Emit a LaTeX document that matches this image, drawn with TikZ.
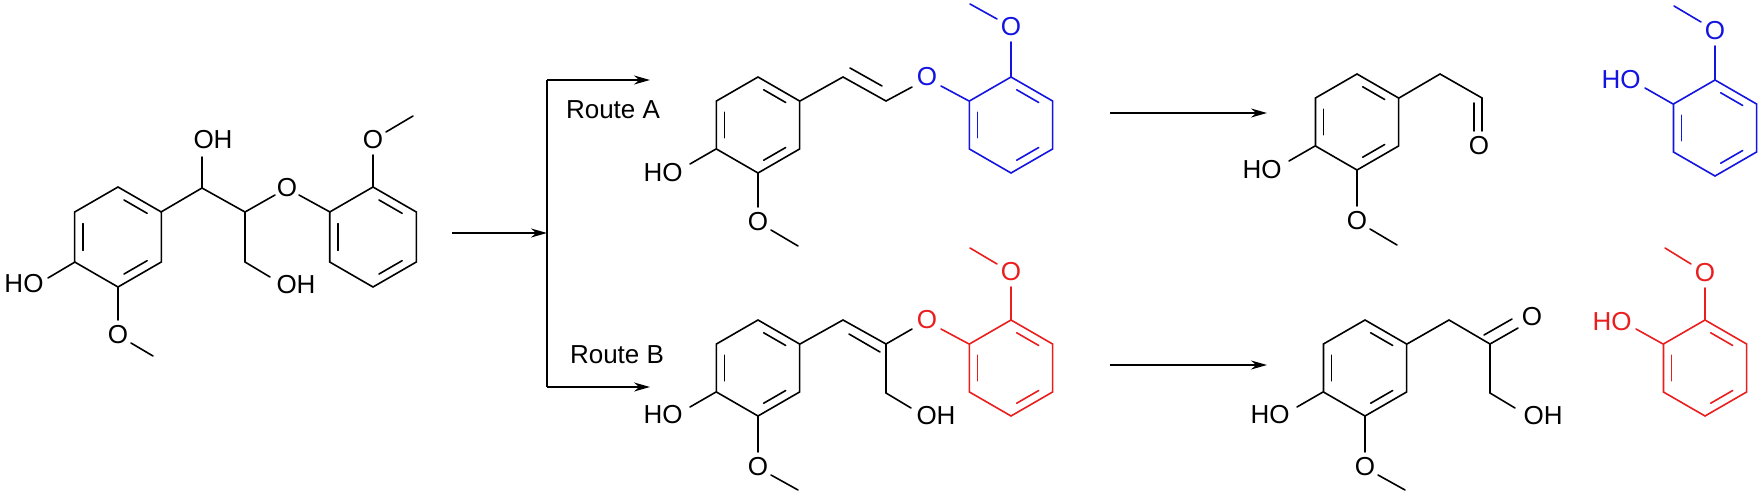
\documentclass[tikz,border=0pt]{standalone}
\usepackage{fontspec}
\setmainfont{Liberation Sans}
\usetikzlibrary{calc,arrows.meta}
\definecolor{cblue}{RGB}{20,20,225}
\definecolor{cred}{RGB}{235,30,30}
\tikzset{
  bond/.style={line width=1.6pt, line cap=round},
  lbl/.style={font=\fontsize{26}{28}\selectfont, inner sep=0pt},
  rxn/.style={line width=1.6pt, -{Stealth[length=16pt,width=9pt]}}
}
\newcommand\hexr[4]{%
 \begin{scope}[shift={(#1,#2)}]
  \draw[bond,#4] (-90:#3) -- (-30:#3) -- (30:#3) -- (90:#3) -- (150:#3) -- (210:#3) -- cycle;
  \foreach \a in {-90,30,150}{
    \draw[bond,#4] ($(\a:#3-9.5)!0.17!(\a+60:#3-9.5)$) -- ($(\a:#3-9.5)!0.83!(\a+60:#3-9.5)$);
  }
 \end{scope}}
\begin{document}
\begin{tikzpicture}[x=1pt,y=-1pt]
\useasboundingbox[fill=white] (0,0) rectangle (1763,495);
% ---------- molecule 1
\hexr{118}{237}{50}{black}
\hexr{373}{237}{50}{black}
\node[lbl] (m1ho) at (24,284) {HO};
\draw[bond] (75,262) -- (48,278);
\draw[bond] (118,287) -- (118,320);
\node[lbl] (m1o) at (118,335) {O};
\draw[bond] (131,343) -- (153,356);
\draw[bond] (161,212) -- (202,188) -- (202,157);
\node[lbl] (m1oh1) at (213,140) {OH};
\draw[bond] (202,188) -- (245,212) -- (245,262) -- (270,277);
\node[lbl] (m1oh2) at (296,285) {OH};
\draw[bond] (245,212) -- (275,195);
\node[lbl] (m1oe) at (287,188) {O};
\draw[bond] (299,195) -- (330,212);
\draw[bond] (373,187) -- (373,155);
\node[lbl] (m1om) at (373,140) {O};
\draw[bond] (386,132) -- (413,116);
% ---------- arrows
\coordinate (a0) at (452,233);
\coordinate (aj) at (547,233);
\coordinate (at) at (547,80);
\coordinate (ab) at (547,387);
\coordinate (ate) at (650,80);
\coordinate (abe) at (650,387);
\draw[rxn] (a0) -- (aj);
\draw[line width=1.6pt] (at) -- (ab);
\draw[rxn] (at) -- (ate);
\draw[rxn] (ab) -- (abe);
\node[font=\fontsize{26}{28}\selectfont, inner sep=0pt] (ra) at (613,110) {Route A};
\node[font=\fontsize{26}{28}\selectfont, inner sep=0pt] (rb) at (617,355) {Route B};
\coordinate (c1) at (1110,113); \coordinate (c2) at (1267,113);
\coordinate (d1) at (1110,365); \coordinate (d2) at (1267,365);
\draw[rxn] (c1) -- (c2);
\draw[rxn] (d1) -- (d2);
% ---------- molecule 2 (route A)
\hexr{758}{125}{48}{black}
\draw[bond] (716,149) -- (690,164);
\node[lbl] (m2ho) at (663,173) {HO};
\draw[bond] (758,173) -- (758,207);
\node[lbl] (m2o) at (758,222) {O};
\draw[bond] (771,230) -- (798,246);
\draw[bond] (800,101) -- (843,77) -- (886,101) -- (912,87);
\draw[bond] (850,68) -- (882,86);
\node[lbl,text=cblue] (m2oe) at (927,77) {O};
\draw[bond,cblue] (941,86) -- (969,101);
\hexr{1011}{125}{48}{cblue}
\draw[bond,cblue] (1011,77) -- (1011,42);
\node[lbl,text=cblue] (m2om) at (1011,27) {O};
\draw[bond,cblue] (997,19) -- (970,4);
% ---------- molecule 3 (route B)
\hexr{758}{368}{48}{black}
\draw[bond] (716,392) -- (690,407);
\node[lbl] (m3ho) at (663,415) {HO};
\draw[bond] (758,416) -- (758,452);
\node[lbl] (m3o) at (758,467) {O};
\draw[bond] (771,475) -- (798,490);
\draw[bond] (800,344) -- (843,320) -- (886,344) -- (912,329);
\draw[bond] (849,334) -- (880,352);
\draw[bond] (886,344) -- (886,393) -- (911,408);
\node[lbl] (m3oh) at (936,416) {OH};
\node[lbl,text=cred] (m3oe) at (927,320) {O};
\draw[bond,cred] (941,329) -- (969,344);
\hexr{1011}{368}{48}{cred}
\draw[bond,cred] (1011,320) -- (1011,287);
\node[lbl,text=cred] (m3om) at (1011,272) {O};
\draw[bond,cred] (997,264) -- (970,248);
% ---------- molecule 4
\hexr{1357}{122}{48}{black}
\draw[bond] (1315,146) -- (1289,161);
\node[lbl] (m4ho) at (1262,170) {HO};
\draw[bond] (1357,170) -- (1357,206);
\node[lbl] (m4o) at (1357,221) {O};
\draw[bond] (1370,229) -- (1397,245);
\draw[bond] (1399,98) -- (1440,74) -- (1482,98) -- (1482,131);
\draw[bond] (1474,103) -- (1474,131);
\node[lbl] (m4ald) at (1479,146) {O};
% ---------- molecule 5
\hexr{1365}{368}{48}{black}
\draw[bond] (1323,392) -- (1297,407);
\node[lbl] (m5ho) at (1270,415) {HO};
\draw[bond] (1365,416) -- (1365,452);
\node[lbl] (m5o) at (1365,467) {O};
\draw[bond] (1378,475) -- (1405,490);
\draw[bond] (1407,344) -- (1449,320) -- (1490,344) -- (1518,328);
\draw[bond] (1484,335) -- (1512,319);
\node[lbl] (m5k) at (1532,317) {O};
\draw[bond] (1490,344) -- (1490,393) -- (1515,408);
\node[lbl] (m5oh) at (1543,416) {OH};
% ---------- molecule 6 (blue guaiacol)
\hexr{1715}{128}{48}{cblue}
\draw[bond,cblue] (1715,80) -- (1715,46);
\node[lbl,text=cblue] (m6o) at (1715,31) {O};
\draw[bond,cblue] (1701,22) -- (1674,6);
\draw[bond,cblue] (1673,104) -- (1645,88);
\node[lbl,text=cblue] (m6ho) at (1621,80) {HO};
% ---------- molecule 7 (red guaiacol)
\hexr{1705}{368}{48}{cred}
\draw[bond,cred] (1705,320) -- (1705,288);
\node[lbl,text=cred] (m7o) at (1705,273) {O};
\draw[bond,cred] (1691,264) -- (1665,248);
\draw[bond,cred] (1663,344) -- (1636,329);
\node[lbl,text=cred] (m7ho) at (1612,322) {HO};
\end{tikzpicture}
\end{document}
